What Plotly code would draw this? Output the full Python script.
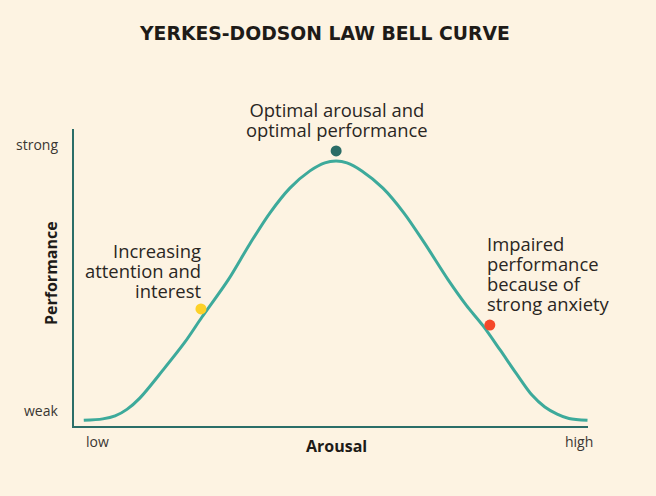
import plotly.graph_objects as go

# Curve (arousal 0-10, performance 0-10)
arousal = [0.19, 0.56, 0.80, 1.03, 1.28, 1.73, 2.16, 2.49, 3.00, 3.42, 3.81, 4.20, 4.59, 4.88, 5.10,
           5.31, 5.60, 6.01, 6.42, 6.83, 7.28, 7.63, 7.96, 8.29, 8.60, 8.91, 9.16, 9.40, 9.63, 9.99]
performance = [0.19, 0.24, 0.34, 0.56, 0.94, 1.88, 2.83, 3.67, 4.92, 6.13, 7.17, 8.01, 8.59, 8.86, 8.92,
               8.86, 8.59, 8.01, 7.17, 6.13, 4.92, 4.07, 3.37, 2.56, 1.78, 1.04, 0.64, 0.40, 0.25, 0.19]

# Highlight points
point_x = [2.47, 5.10, 8.09]
point_y = [3.94, 9.26, 3.40]
point_colors = ["#FDD128", "#2A6C66", "#F5482A"]

title = "YERKES-DODSON LAW BELL CURVE"
note_left = ["Increasing", "attention and", "interest"]
note_top = ["Optimal arousal and", "optimal performance"]
note_right = ["Impaired", "performance", "because of", "strong anxiety"]
y_ticks = ["weak", "strong"]
x_ticks = ["low", "high"]
x_title = "Arousal"
y_title = "Performance"

BG = "#FDF3E2"
FONT = "Open Sans"
TXT = "#2A2622"

# plot area in pixels (for placing free text)
L, R, T, B = 74, 588, 129, 426


def px(x):
    return (x - L) / (R - L)


def py(y):
    return (B - y) / (B - T)


fig = go.Figure()
fig.add_trace(go.Scatter(x=arousal, y=performance, mode="lines",
                         line=dict(color="#3DAA9B", width=3, shape="spline", smoothing=0.9),
                         hoverinfo="skip"))
fig.add_trace(go.Scatter(x=point_x, y=point_y, mode="markers",
                         marker=dict(color=point_colors, size=11), cliponaxis=False, hoverinfo="skip"))

ann = []


def text(t, x, y, xa="center", size=18.4, color=TXT, family=FONT, angle=0, align="center"):
    ann.append(dict(text=t, xref="paper", yref="paper", x=px(x), y=py(y), xanchor=xa, yanchor="middle",
                    align=align, showarrow=False, textangle=angle, borderpad=0,
                    font=dict(family=family, size=size, color=color)))


def block(lines, x, y, xa, align, size=18.4, spacing=20):
    # base font sets the line spacing (1.3 em), inner spans set the glyph size
    inner = "<br>".join('<span style="font-size:%spx">%s</span>' % (size, s) for s in lines)
    text(inner, x, y, xa=xa, size=spacing / 1.3, align=align)


text("<b>" + title + "</b>", 324, 33.5, size=18.8, color="#1E1B18", family="DejaVu Sans")
block(note_left, 202, 270.5, "right", "right")
block(note_top, 336.5, 119.6, "center", "center")
block(note_right, 486, 273, "left", "left")
text(y_ticks[1], 58.5, 144, xa="right", size=14, color="#3A3632")
text(y_ticks[0], 58.5, 410, xa="right", size=14, color="#3A3632")
text(x_ticks[0], 97, 441.5, size=14, color="#3A3632")
text(x_ticks[1], 578.5, 441.5, size=14, color="#3A3632")
text("<b>" + x_title + "</b>", 336, 445.5, size=16, color="#1E1B18")
text("<b>" + y_title + "</b>", 51, 273, size=16, color="#1E1B18", angle=-90)

fig.update_layout(
    width=656, height=496, paper_bgcolor=BG, plot_bgcolor=BG,
    margin=dict(l=L, r=656 - R, t=T, b=496 - B),
    showlegend=False, annotations=ann,
    xaxis=dict(range=[0, 10], showgrid=False, zeroline=False, showticklabels=False, ticks="",
               showline=True, linecolor="#2B6E68", linewidth=2, fixedrange=True),
    yaxis=dict(range=[0, 10], showgrid=False, zeroline=False, showticklabels=False, ticks="",
               showline=True, linecolor="#2B6E68", linewidth=2, fixedrange=True),
)
fig.write_html("out.html", config={"displayModeBar": False},
               post_script="document.body.style.margin='0';document.body.style.overflow='hidden';")
